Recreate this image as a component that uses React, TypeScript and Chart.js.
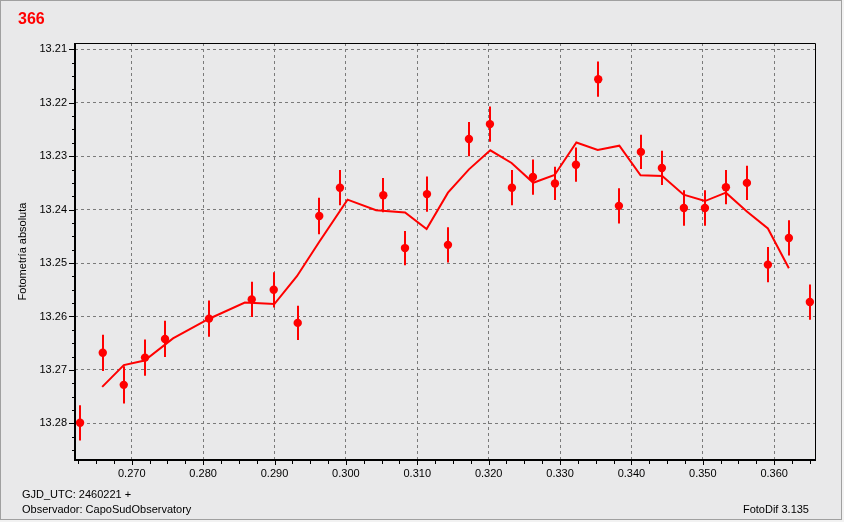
import { useEffect, useRef } from "react";
import { Chart, registerables } from "chart.js";

Chart.register(...registerables);

// Observations (phase in GJD - 2460221, absolute magnitude, error)
const obsX = [
  0.26276, 0.26594, 0.26888, 0.27186, 0.27466, 0.28083, 0.28681, 0.28989,
  0.29325, 0.29627, 0.29917, 0.30524, 0.30828, 0.31136, 0.3143, 0.31724,
  0.32018, 0.32326, 0.3262, 0.32929, 0.33223, 0.33535, 0.33825, 0.34133,
  0.34427, 0.34735, 0.3503, 0.35324, 0.35618, 0.35912, 0.36206, 0.365,
];
const obsY = [
  13.2799, 13.2668, 13.2728, 13.2677, 13.2642, 13.2604, 13.2568, 13.255,
  13.2612, 13.2412, 13.2359, 13.2373, 13.2472, 13.2371, 13.2466, 13.2268,
  13.224, 13.2359, 13.2339, 13.2351, 13.2316, 13.2156, 13.2393, 13.2292,
  13.2322, 13.2397, 13.2397, 13.2358, 13.235, 13.2503, 13.2453, 13.2573,
];
const obsErr = [
  0.0033, 0.0034, 0.0035, 0.0034, 0.0034, 0.0034, 0.0033, 0.0033,
  0.0032, 0.0034, 0.0033, 0.0032, 0.0032, 0.0033, 0.0033, 0.0032,
  0.0033, 0.0033, 0.0033, 0.0031, 0.0032, 0.0033, 0.0033, 0.0032,
  0.0032, 0.0033, 0.0033, 0.0032, 0.0032, 0.0033, 0.0033, 0.0033,
];

// Smoothed curve
const avgX = [
  0.26586, 0.26889, 0.2718, 0.27578, 0.28077, 0.28584, 0.28998, 0.29314,
  0.29623, 0.30023, 0.30423, 0.30829, 0.31131, 0.3143, 0.31724, 0.32023,
  0.32321, 0.32625, 0.32924, 0.33229, 0.33528, 0.33831, 0.34128, 0.34432,
  0.34731, 0.3503, 0.35324, 0.35618, 0.35912, 0.36206,
];
const avgY = [
  13.27317, 13.2691, 13.26823, 13.2641, 13.26047, 13.2574, 13.25767, 13.25247,
  13.2461, 13.23813, 13.24013, 13.24053, 13.24363, 13.23683, 13.23247, 13.2289,
  13.23127, 13.23497, 13.23353, 13.22743, 13.22883, 13.22803, 13.23357, 13.2337,
  13.2372, 13.2384, 13.23683, 13.24037, 13.24353, 13.25097,
];

const xTickValues = [0.27, 0.28, 0.29, 0.3, 0.31, 0.32, 0.33, 0.34, 0.35, 0.36];
const yTickValues = [13.21, 13.22, 13.23, 13.24, 13.25, 13.26, 13.27, 13.28];

const X_MIN = 0.26205;
const X_MAX = 0.36572;
const Y_MIN = 13.20882;
const Y_MAX = 13.28686;

const FONT = "'Liberation Sans', Arial, sans-serif";
const RED = "#ff0000";

const framePlugin = {
  id: "framePlugin",
  beforeDraw(chart: any) {
    const ctx = chart.ctx;
    ctx.save();
    ctx.fillStyle = "#f2f2f2";
    ctx.fillRect(0, 0, chart.width, chart.height);
    ctx.fillStyle = "#e9e9ea";
    ctx.fillRect(1, 1, 840, 518);
    ctx.strokeStyle = "#a0a0a0";
    ctx.lineWidth = 1;
    ctx.strokeRect(0.5, 0.5, 841, 519);
    ctx.restore();
  },
  beforeDatasetsDraw(chart: any) {
    const ctx = chart.ctx;
    const xs = chart.scales.x;
    const ys = chart.scales.y;
    ctx.save();
    ctx.strokeStyle = RED;
    ctx.lineWidth = 2;
    for (let i = 0; i < obsX.length; i++) {
      const px = Math.round(xs.getPixelForValue(obsX[i]));
      const p1 = ys.getPixelForValue(obsY[i] - obsErr[i]);
      const p2 = ys.getPixelForValue(obsY[i] + obsErr[i]);
      ctx.beginPath();
      ctx.moveTo(px, p1);
      ctx.lineTo(px, p2);
      ctx.stroke();
    }
    ctx.restore();
  },
  afterDraw(chart: any) {
    const ctx = chart.ctx;
    const { left, right, top, bottom } = chart.chartArea;
    const xs = chart.scales.x;
    const ys = chart.scales.y;
    ctx.save();
    ctx.strokeStyle = "#000";
    // ticks
    ctx.lineWidth = 1;
    ctx.beginPath();
    for (let v = 0.2625; v <= X_MAX + 1e-9; v += 0.0025) {
      const px = Math.round(xs.getPixelForValue(v)) + 0.5;
      const major = Math.abs(v * 100 - Math.round(v * 100)) < 1e-6;
      ctx.moveTo(px, bottom);
      ctx.lineTo(px, bottom + (major ? 5 : 4));
    }
    for (let v = 13.21; v <= Y_MAX + 1e-9; v += 0.0025) {
      const py = Math.round(ys.getPixelForValue(v)) + 0.5;
      const major = Math.abs(v * 100 - Math.round(v * 100)) < 1e-6;
      ctx.moveTo(left, py);
      ctx.lineTo(left - (major ? 6 : 3), py);
    }
    ctx.stroke();
    // frame
    ctx.beginPath();
    ctx.moveTo(left, top + 0.5);
    ctx.lineTo(right + 0.5, top + 0.5);
    ctx.lineTo(right + 0.5, bottom);
    ctx.stroke();
    ctx.lineWidth = 2;
    ctx.beginPath();
    ctx.moveTo(left, top);
    ctx.lineTo(left, bottom);
    ctx.lineTo(right + 1, bottom);
    ctx.stroke();
    ctx.restore();
  },
};

export default function App() {
  const canvasRef = useRef<HTMLCanvasElement | null>(null);

  useEffect(() => {
    document.body.style.margin = "0";
    const canvas = canvasRef.current;
    if (!canvas) return;
    Chart.defaults.font.family = FONT;
    const chart = new Chart(canvas, {
      type: "scatter",
      data: {
        datasets: [
          {
            data: avgX.map((x, i) => ({ x, y: avgY[i] })),
            showLine: true,
            borderColor: RED,
            backgroundColor: RED,
            borderWidth: 2,
            pointRadius: 0,
            pointHoverRadius: 0,
            tension: 0,
            fill: false,
          },
          {
            data: obsX.map((x, i) => ({ x, y: obsY[i] })),
            borderColor: RED,
            backgroundColor: RED,
            pointRadius: 4.2,
            pointHoverRadius: 4.2,
            borderWidth: 0,
          },
        ],
      },
      options: {
        animation: false,
        responsive: false,
        devicePixelRatio: 1,
        events: [],
        layout: { padding: { left: 0, top: 43, right: 29, bottom: 0 } },
        plugins: {
          legend: { display: false },
          tooltip: { enabled: false },
          title: { display: false },
        },
        scales: {
          x: {
            type: "linear",
            min: X_MIN,
            max: X_MAX,
            afterBuildTicks: (s: any) => {
              s.ticks = xTickValues.map((v) => ({ value: v }));
            },
            afterFit: (s: any) => {
              s.height = 62;
            },
            grid: { color: "#7a7a7a", lineWidth: 1, drawTicks: false },
            border: { display: false, dash: [3, 3] },
            ticks: {
              callback: (v: any) => Number(v).toFixed(3),
              color: "#000",
              font: { family: FONT, size: 11 },
              padding: 7,
              maxRotation: 0,
              autoSkip: false,
            },
          },
          y: {
            type: "linear",
            reverse: true,
            min: Y_MIN,
            max: Y_MAX,
            afterBuildTicks: (s: any) => {
              s.ticks = yTickValues.map((v) => ({ value: v }));
            },
            afterFit: (s: any) => {
              s.width = 75;
            },
            grid: { color: "#7a7a7a", lineWidth: 1, drawTicks: false },
            border: { display: false, dash: [3, 3] },
            ticks: {
              callback: (v: any) => Number(v).toFixed(2),
              color: "#000",
              font: { family: FONT, size: 11 },
              padding: 8,
              autoSkip: false,
            },
            title: {
              display: true,
              text: "Fotometría absoluta",
              color: "#000",
              font: { family: FONT, size: 11 },
              padding: { top: 16, bottom: 0 },
            },
          },
        },
      },
      plugins: [framePlugin],
    });
    return () => chart.destroy();
  }, []);

  const txt: any = {
    position: "absolute",
    fontFamily: FONT,
    fontSize: "11px",
    lineHeight: "11px",
    color: "#000",
    whiteSpace: "nowrap",
  };

  return (
    <div style={{ position: "relative", width: 844, height: 522, overflow: "hidden" }}>
      <canvas ref={canvasRef} width={844} height={522} style={{ display: "block" }} />
      <div
        style={{
          ...txt,
          left: 18,
          top: 11,
          fontSize: "16px",
          lineHeight: "16px",
          fontWeight: "bold",
          color: RED,
        }}
      >
        366
      </div>
      <div style={{ ...txt, left: 22, top: 488.5 }}>GJD_UTC: 2460221 +</div>
      <div style={{ ...txt, left: 22, top: 504.3 }}>Observador: CapoSudObservatory</div>
      <div style={{ ...txt, right: 35, top: 503.8 }}>FotoDif 3.135</div>
    </div>
  );
}
